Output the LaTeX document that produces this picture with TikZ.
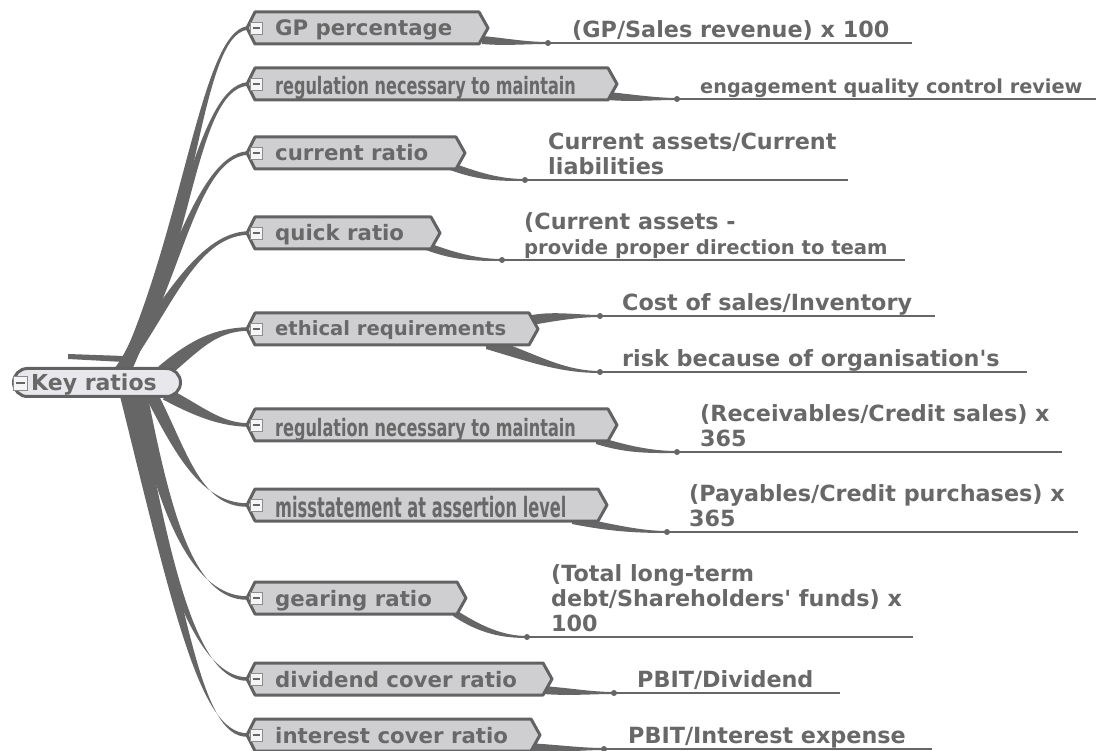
\documentclass[tikz,border=0pt]{standalone}
\usepackage{fontspec}
\usetikzlibrary{calc,shapes.misc}
\newfontfamily\vf{DejaVu Sans}[Ligatures=TeXOff]
\definecolor{lc}{HTML}{666666}
\definecolor{tc}{HTML}{686868}
\definecolor{bf}{HTML}{CFCFD2}
\definecolor{rf}{HTML}{E8E8EC}
\definecolor{bd}{HTML}{626262}
\tikzset{
  conn/.style={fill=lc},
  bshape/.style={draw=bd, line width=3pt, fill=bf, line join=round},
  btext/.style={font=\vf\bfseries\fontsize{21.3}{24}\selectfont, text=tc, inner sep=0pt, anchor=base west},
  ntext/.style={font=\vf\bfseries\fontsize{24}{26}\selectfont, text=tc, inner sep=0pt, anchor=base west},
  leaf/.style={font=\vf\bfseries\fontsize{22.3}{24.7}\selectfont, text=tc, inner sep=0pt, anchor=south west, align=left, text depth=0pt},
  uline/.style={draw=lc, line width=2pt},
  rootn/.style={rounded rectangle, draw=bd, line width=3pt, fill=rf, minimum width=167pt, minimum height=28pt, inner sep=0pt},
  mbox/.style={draw=gray!90, fill=gray!8, line width=0.8pt, minimum size=12pt, inner sep=0pt,
    path picture={\draw[lc, line width=1.5pt] ($(path picture bounding box.west)+(2.5,0)$) -- ($(path picture bounding box.east)+(-2.5,0)$);}},
}
\newcommand\taper[6]{\fill[conn] ($(#1)+(#5)$) .. controls ($(#2)+(#5)$) and ($(#3)+(#6)$) .. ($(#4)+(#6)$) -- ($(#4)-(#6)$) .. controls ($(#3)-(#6)$) and ($(#2)-(#5)$) .. ($(#1)-(#5)$) -- cycle;}
\newcommand\branchshape[3]{%
  \path[bshape] (#1) -- ($(#1)+(8,-16)$) -- (#3-9,#2-16) -- (#3,#2) -- (#3-9,#2+16) -- ($(#1)+(8,16)$) -- cycle;}
\begin{document}
\begin{tikzpicture}[x=1pt,y=-1pt]
\useasboundingbox (0,0) rectangle (1096,751);
% branch tips
\coordinate (b1) at (247,28);
\coordinate (b2) at (247,84);
\coordinate (b3) at (247,153);
\coordinate (b4) at (247,233);
\coordinate (b5) at (247,329);
\coordinate (b6) at (247,425);
\coordinate (b7) at (247,505);
\coordinate (b8) at (247,598);
\coordinate (b9) at (247,679);
\coordinate (b10) at (247,735);
% root connector starts
\coordinate (s1) at (122,376);
\coordinate (s2) at (120,376);
\coordinate (s3) at (118,376);
\coordinate (s4) at (116,376);
\coordinate (s5) at (163,372);
\coordinate (s6) at (166,394);
\coordinate (s7) at (150,392);
\coordinate (s8) at (140,392);
\coordinate (s9) at (132,392);
\coordinate (s10) at (126,392);
% leaf dots and line ends
\coordinate (d1) at (548,43);   \coordinate (e1) at (912,43);
\coordinate (d2) at (677,99);   \coordinate (e2) at (1096,99);
\coordinate (d3) at (525,180);  \coordinate (e3) at (848,180);
\coordinate (d4) at (502,260);  \coordinate (e4) at (905,260);
\coordinate (d5a) at (600,316); \coordinate (e5a) at (935,316);
\coordinate (d5b) at (600,372); \coordinate (e5b) at (1027,372);
\coordinate (d6) at (677,452);  \coordinate (e6) at (1062,452);
\coordinate (d7) at (667,532);  \coordinate (e7) at (1078,532);
\coordinate (d8) at (527,637);  \coordinate (e8) at (913,637);
\coordinate (d9) at (614,693);  \coordinate (e9) at (840,693);
\coordinate (d10) at (604,749); \coordinate (e10) at (932,749);
% leaf connector starts
\coordinate (ls1) at (482,40);
\coordinate (ls2) at (608,96);
\coordinate (ls3) at (450,166);
\coordinate (ls4) at (426,246);
\coordinate (ls5a) at (532,320);
\coordinate (ls5b) at (486,343);
\coordinate (ls6) at (596,440);
\coordinate (ls7) at (572,520);
\coordinate (ls8) at (453,612);
\coordinate (ls9) at (543,690);
\coordinate (ls10) at (528,747);

% root connectors
\taper{s1}{190,235}{200,35}{b1}{7,0}{0,1.8}
\taper{s2}{185,260}{195,90}{b2}{7,0}{0,1.8}
\taper{s3}{175,285}{195,158}{b3}{7,0}{0,1.8}
\taper{s4}{165,310}{195,236}{b4}{7,0}{0,1.8}
\taper{s5}{195,345}{215,330}{b5}{4.5,5.5}{0,1.8}
\taper{s6}{200,412}{220,424}{b6}{-3,5.5}{0,1.8}
\taper{s7}{180,450}{200,505}{b7}{7,0}{0,1.8}
\taper{s8}{165,520}{195,598}{b8}{7,0}{0,1.8}
\taper{s9}{165,580}{200,679}{b9}{7,0}{0,1.8}
\taper{s10}{180,610}{200,735}{b10}{7,0}{0,1.8}
\fill[lc] (68,354) -- (124,356) -- (124,362) -- (68,359) -- cycle;

% root
\node[rootn] (root) at (97,382.5) {};
\node[mbox, minimum size=14pt] (rootm) at (20,383) {};
\node[btext, font=\vf\bfseries\fontsize{22}{24}\selectfont] (roott) at (31,390.5) {Key ratios};

% leaf connectors
\taper{ls1}{505,42}{525,43}{d1}{0,4}{0,1}
\taper{ls2}{630,98}{655,99}{d2}{0,4}{0,1}
\taper{ls3}{480,177}{500,180}{d3}{0,4}{0,1}
\taper{ls4}{455,257}{478,260}{d4}{0,4}{0,1}
\taper{ls5a}{555,316}{578,316}{d5a}{0,5}{0,1}
\taper{ls5b}{530,356}{560,372}{d5b}{0,6}{0,1}
\taper{ls6}{628,450}{652,452}{d6}{0,4}{0,1}
\taper{ls7}{612,528}{640,532}{d7}{0,4}{0,1}
\taper{ls8}{480,630}{503,637}{d8}{0,4}{0,1}
\taper{ls9}{570,692}{592,693}{d9}{0,4}{0,1}
\taper{ls10}{560,749}{582,749}{d10}{0,4}{0,1}

% branches
\branchshape{b1}{28}{488}
\branchshape{b2}{84}{617}
\branchshape{b3}{153}{465}
\branchshape{b4}{233}{440}
\branchshape{b5}{329}{538}
\branchshape{b6}{425}{617}
\branchshape{b7}{505}{607}
\branchshape{b8}{598}{466}
\branchshape{b9}{679}{552}
\branchshape{b10}{735}{540}
\foreach \n/\y in {1/28,2/84,3/153,4/233,5/329,6/425,7/505,8/598,9/679,10/735}
  \node[mbox] (m\n) at (256,\y) {};

\node[btext] (t1) at (275,36) {GP percentage};
\node[ntext] (t2) at (275,95) {\scalebox{0.67}[1]{regulation necessary to maintain}};
\node[btext] (t3) at (275,161) {current ratio};
\node[btext] (t4) at (275,241) {quick ratio};
\node[btext, font=\vf\bfseries\fontsize{19.6}{24}\selectfont] (t5) at (275,336) {ethical requirements};
\node[ntext] (t6) at (275,436) {\scalebox{0.67}[1]{regulation necessary to maintain}};
\node[ntext, font=\vf\bfseries\fontsize{28}{30}\selectfont] (t7) at (275,517) {\scalebox{0.58}[1]{misstatement at assertion level}};
\node[btext] (t8) at (275,606) {gearing ratio};
\node[btext] (t9) at (275,687) {dividend cover ratio};
\node[btext] (t10) at (275,743) {interest cover ratio};

% leaf lines and dots
\foreach \k in {1,2,3,4,5a,5b,6,7,8,9,10}{
  \draw[uline] (d\k) -- (e\k);
  \fill[lc] (d\k) circle[radius=3pt];
}

% leaf texts
\node[leaf] (l1) at (572,37.5) {(GP/Sales revenue) x 100};
\node[leaf, font=\vf\bfseries\fontsize{19.3}{24.7}\selectfont] (l2) at (700,93.5) {engagement quality control review};
\node[leaf] (l3) at (548,174.5) {Current assets/Current\\liabilities};
\node[leaf] (l4) at (524,254.5) {(Current assets -\\\fontsize{19.6}{24.7}\selectfont provide proper direction to team};
\node[leaf] (l5a) at (622,310.5) {Cost of sales/Inventory};
\node[leaf] (l5b) at (622,366.5) {risk because of organisation's};
\node[leaf] (l6) at (700,446.5) {(Receivables/Credit sales) x\\365};
\node[leaf] (l7) at (689,526.5) {(Payables/Credit purchases) x\\365};
\node[leaf] (l8) at (551,631.5) {(Total long-term\\debt/Shareholders' funds) x\\100};
\node[leaf] (l9) at (637,687.5) {PBIT/Dividend};
\node[leaf] (l10) at (628,743.5) {PBIT/Interest expense};
\end{tikzpicture}
\end{document}
